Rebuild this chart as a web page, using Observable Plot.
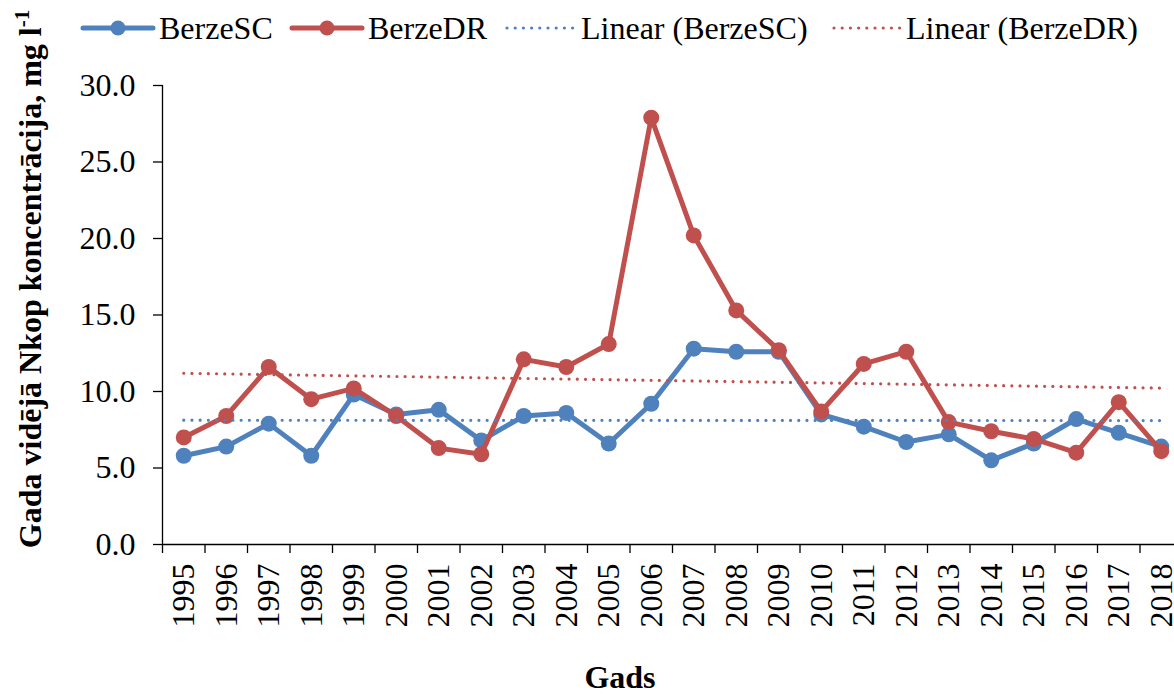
<!DOCTYPE html>
<html>
<head>
<meta charset="utf-8">
<script src="https://cdn.jsdelivr.net/npm/d3@7"></script>
<script src="https://cdn.jsdelivr.net/npm/@observablehq/plot@0.6"></script>
<style>
  html, body { margin: 0; padding: 0; background: white; overflow: hidden; }
  #chart { width: 1174px; height: 695px; overflow: hidden; }
</style>
</head>
<body>
<div id="chart"></div>
<script>
// ---- data ----
const years = [1995, 1996, 1997, 1998, 1999, 2000, 2001, 2002, 2003, 2004, 2005, 2006,
               2007, 2008, 2009, 2010, 2011, 2012, 2013, 2014, 2015, 2016, 2017, 2018];
const berzeSC = [5.8, 6.4, 7.9, 5.8, 9.8, 8.5, 8.8, 6.8, 8.4, 8.6, 6.6, 9.2,
                 12.8, 12.6, 12.6, 8.5, 7.7, 6.7, 7.2, 5.5, 6.6, 8.2, 7.3, 6.4];
const berzeDR = [7.0, 8.4, 11.6, 9.5, 10.2, 8.4, 6.3, 5.9, 12.1, 11.6, 13.1, 27.9,
                 20.2, 15.3, 12.7, 8.7, 11.8, 12.6, 8.0, 7.4, 6.9, 6.0, 9.3, 6.1];
const yTicks = [0, 5, 10, 15, 20, 25, 30];
const seriesNames = ["BerzeSC", "BerzeDR", "Linear (BerzeSC)", "Linear (BerzeDR)"];
const yTitle = "Gada vidējā Nkop koncentrācija, mg l";
const yTitleSup = "-1";
const xTitle = "Gads";

// ---- styles ----
const blue = "#4F81BD";
const red = "#C0504D";
const font = "'Liberation Serif', 'Times New Roman', serif";
const fs = 32;

const rows = years.map((year, i) => ({year, sc: berzeSC[i], dr: berzeDR[i]}));
const bounds = years.map(y => y - 0.5).concat([years[years.length - 1] + 0.5]);

const dotted = {strokeWidth: 3.2, strokeDasharray: "0 8.2", strokeLinecap: "round", ci: 0};

const chart = Plot.plot({
  width: 1174,
  height: 695,
  marginTop: 85,
  marginBottom: 151,
  marginLeft: 162,
  marginRight: -8,
  style: {fontFamily: font, fontSize: fs + "px", color: "black", background: "white"},
  x: {type: "linear", domain: [bounds[0], bounds[bounds.length - 1]]},
  y: {domain: [0, 30]},
  marks: [
    Plot.axisY(yTicks, {tickSize: 9, tickPadding: 18, tickFormat: d3.format(".1f"), label: null, fontSize: fs, strokeWidth: 1.3}),
    Plot.axisX(years, {tickSize: 0, tickPadding: 19, tickRotate: -90, tickFormat: d3.format("d"), label: null, fontSize: fs}),
    Plot.axisX(bounds, {tickSize: 9, tickFormat: () => "", label: null, strokeWidth: 1.3}),
    Plot.ruleY([0], {strokeWidth: 1.3}),
    Plot.ruleX([bounds[0]], {strokeWidth: 1.3}),
    Plot.line(rows, {x: "year", y: "sc", stroke: blue, strokeWidth: 5}),
    Plot.dot(rows, {x: "year", y: "sc", r: 8, fill: blue}),
    Plot.line(rows, {x: "year", y: "dr", stroke: red, strokeWidth: 5}),
    Plot.dot(rows, {x: "year", y: "dr", r: 8, fill: red}),
    Plot.linearRegressionY(rows, {x: "year", y: "sc", stroke: blue, ...dotted}),
    Plot.linearRegressionY(rows, {x: "year", y: "dr", stroke: red, ...dotted})
  ]
});

document.getElementById("chart").appendChild(chart);
const svg = d3.select(chart);

// Y axis title with superscript
const yt = svg.append("text")
  .attr("transform", "translate(41,279) rotate(-90)")
  .attr("text-anchor", "middle")
  .attr("font-family", font)
  .attr("font-weight", "bold")
  .attr("font-size", 32)
  .attr("fill", "black");
yt.append("tspan").text(yTitle);
yt.append("tspan").attr("font-size", 21).attr("dy", "-0.55em").text(yTitleSup);

// X axis title
svg.append("text")
  .attr("x", 620).attr("y", 688)
  .attr("text-anchor", "middle")
  .attr("font-family", font)
  .attr("font-weight", "bold")
  .attr("font-size", 32)
  .attr("fill", "black")
  .text(xTitle);

// Legend
const legendItems = [
  {name: seriesNames[0], color: blue, kind: "marker", x: 83, tx: 159},
  {name: seriesNames[1], color: red, kind: "marker", x: 292, tx: 368},
  {name: seriesNames[2], color: blue, kind: "dotted", x: 505, tx: 581},
  {name: seriesNames[3], color: red, kind: "dotted", x: 832, tx: 906}
];
const lg = svg.append("g");
legendItems.forEach(d => {
  if (d.kind === "marker") {
    lg.append("line").attr("x1", d.x).attr("x2", d.x + 70).attr("y1", 28).attr("y2", 28)
      .attr("stroke", d.color).attr("stroke-width", 5).attr("stroke-linecap", "round");
    lg.append("circle").attr("cx", d.x + 35).attr("cy", 28).attr("r", 7.5).attr("fill", d.color);
  } else {
    lg.append("line").attr("x1", d.x + 2).attr("x2", d.x + 68).attr("y1", 28).attr("y2", 28)
      .attr("stroke", d.color).attr("stroke-width", 3.2)
      .attr("stroke-dasharray", "0 8.2").attr("stroke-linecap", "round");
  }
  lg.append("text").attr("x", d.tx).attr("y", 39)
    .attr("text-anchor", "start")
    .attr("font-family", font).attr("font-size", fs).attr("fill", "black")
    .text(d.name);
});
</script>
</body>
</html>
